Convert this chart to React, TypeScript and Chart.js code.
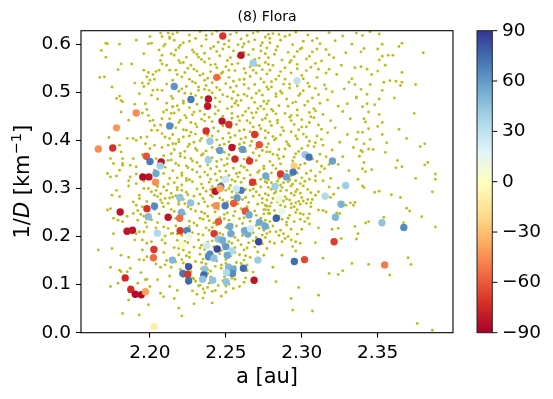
import { useEffect, useRef } from 'react';
import { Chart, registerables } from 'chart.js';

Chart.register(...registerables);

const W = 553;
const H = 399;
const FONT = "'DejaVu Sans', sans-serif";

const titleText = '(8) Flora';
const xLabel = 'a [au]';
const xTicks = [2.2, 2.25, 2.3, 2.35];
const yTicks = [0, 0.1, 0.2, 0.3, 0.4, 0.5, 0.6];
const cbTicks = [-90, -60, -30, 0, 30, 60, 90];
const xRange = [2.1546, 2.3996];
const yRange = [0, 0.628];
const cbRange = [-90, 90];

const rdylbu = ['#a50026', '#d73027', '#f46d43', '#fdae61', '#fee090', '#ffffbf', '#e0f3f8', '#abd9e9', '#74add1', '#4575b4', '#313695'];

// family members with measured colour value: a [au], 1/D [km^-1], colour value
const kinX = [2.248, 2.26, 2.268, 2.244, 2.216, 2.227, 2.2385, 2.238, 2.191, 2.213, 2.178, 2.2475, 2.252, 2.237, 2.269, 2.272, 2.2395, 2.254, 2.261, 2.246, 2.166, 2.1755, 2.1976, 2.256, 2.2385, 2.2, 2.2074, 2.2656, 2.2067, 2.204, 2.1953, 2.1993, 2.2037, 2.2763, 2.286, 2.2824, 2.2676, 2.2498, 2.2467, 2.2601, 2.2569, 2.243, 2.2462, 2.2574, 2.2969, 2.3022, 2.3048, 2.3202, 2.2949, 2.2943, 2.2899, 2.3289, 2.3153, 2.3259, 2.3222, 2.2832, 2.2849, 2.2868, 2.3528, 2.3672, 2.3213, 2.2951, 2.3018, 2.3546, 2.2197, 2.2268, 2.203, 2.198, 2.2436, 2.2495, 2.2551, 2.1804, 2.1989, 2.212, 2.2207, 2.2196, 2.2628, 2.2653, 2.1849, 2.1885, 2.2049, 2.2199, 2.2245, 2.2211, 2.2257, 2.2423, 2.2451, 2.2526, 2.2533, 2.2449, 2.2478, 2.2623, 2.2645, 2.2662, 2.272, 2.2759, 2.2716, 2.2026, 2.2023, 2.2148, 2.2255, 2.2217, 2.2249, 2.2255, 2.1837, 2.1874, 2.1903, 2.1943, 2.197, 2.2028, 2.2443, 2.25, 2.2541, 2.2395, 2.2386, 2.2421, 2.2375, 2.2509, 2.2711, 2.236, 2.2355, 2.2347, 2.2413, 2.2518, 2.2548, 2.2544, 2.2505, 2.2502, 2.2616, 2.2686];
const kinY = [0.617, 0.577, 0.561, 0.531, 0.512, 0.485, 0.486, 0.471, 0.457, 0.43, 0.426, 0.44, 0.433, 0.4195, 0.412, 0.391, 0.398, 0.385, 0.381, 0.379, 0.382, 0.384, 0.367, 0.361, 0.359, 0.356, 0.355, 0.357, 0.347, 0.331, 0.324, 0.324, 0.313, 0.326, 0.33, 0.304, 0.313, 0.319, 0.304, 0.296, 0.299, 0.294, 0.3, 0.28, 0.524, 0.37, 0.365, 0.357, 0.347, 0.334, 0.324, 0.306, 0.284, 0.267, 0.24, 0.238, 0.279, 0.252, 0.2285, 0.219, 0.189, 0.148, 0.152, 0.141, 0.281, 0.27, 0.263, 0.258, 0.264, 0.264, 0.269, 0.251, 0.241, 0.24, 0.25, 0.238, 0.253, 0.245, 0.211, 0.213, 0.207, 0.212, 0.212, 0.183, 0.201, 0.206, 0.231, 0.221, 0.206, 0.195, 0.1925, 0.212, 0.205, 0.216, 0.2295, 0.2216, 0.189, 0.173, 0.156, 0.151, 0.1375, 0.123, 0.121, 0.108, 0.114, 0.09, 0.08, 0.079, 0.085, 0.013, 0.174, 0.179, 0.17, 0.163, 0.158, 0.155, 0.181, 0.161, 0.151, 0.132, 0.12, 0.111, 0.109, 0.136, 0.132, 0.123, 0.125, 0.106, 0.134, 0.109];
const kinVal = [-70, -82, 40, -55, 62, 70, -82, -82, -45, 65, -42, -82, -72, -72, -70, -62, 42, -82, 60, 60, -45, -72, -62, -75, 40, 70, -82, -70, 40, 55, -85, -82, -45, 55, -70, 40, -70, 25, 70, 70, 25, -82, -40, 60, 30, 42, 72, 58, -25, 72, 58, 40, 35, 52, 50, 78, 8, 12, 45, 65, -68, 75, -65, -50, 45, 45, 65, -72, -45, 70, -60, -82, 48, -82, 52, -55, -62, 55, -82, -82, 35, -70, 68, 5, 10, -70, -60, 55, 55, 45, 55, 55, 55, 25, 55, 55, 85, -70, -55, 50, 80, 72, -70, 75, -75, -75, -85, -85, -40, -10, 85, 60, 35, 65, 65, 45, 25, 55, 42, 45, 75, 45, 45, 50, 55, 65, 35, 45, 75, -82];

// background asteroids, flat (a, 1/D) pairs in thousandths
const bgUpperLeft = [2168,587, 2171,573, 2172,601, 2180,600, 2191,608, 2170,532, 2175,511, 2179,547, 2181,559, 2188,559, 2190,519, 2195,519, 2196,546, 2200,616, 2199,601, 2201,602, 2207,623, 2208,616, 2212,623, 2210,600, 2214,580, 2208,577, 2207,566, 2208,559, 2206,546, 2211,556, 2213,546, 2199,541, 2202,537, 2204,543, 2198,532, 2200,525, 2199,518, 2202,504, 2205,505, 2208,504, 2201,494, 2193,497, 2180,492, 2181,483, 2182,480, 2178,487, 2181,459, 2190,475, 2186,442, 2197,476, 2198,464, 2199,452, 2202,442, 2203,431, 2209,459, 2211,463, 2214,456, 2208,445, 2213,445, 2215,470, 2205,421, 2208,414, 2201,421, 2198,407, 2194,406, 2191,400, 2189,404, 2185,404, 2173,406, 2210,407, 2213,404, 2215,393, 2212,390, 2203,390, 2200,383, 2208,385, 2197,393, 2180,390, 2181,376, 2189,362, 2182,362, 2174,362, 2176,352, 2182,348, 2187,348, 2191,345, 2180,338, 2174,324, 2178,326, 2187,324, 2191,330, 2203,338, 2209,331, 2213,321, 2172,331, 2182,352, 2171,602, 2167,531, 2206,352, 2212,358, 2209,368, 2204,362, 2214,372, 2195,370, 2210,344];
const bgLowerLeft = [2178,296, 2175,286, 2180,283, 2186,305, 2191,310, 2196,315, 2199,300, 2201,293, 2204,296, 2209,303, 2212,309, 2214,290, 2210,279, 2207,276, 2193,279, 2189,272, 2191,265, 2195,262, 2192,254, 2189,248, 2185,242, 2180,248, 2174,258, 2172,255, 2176,238, 2179,234, 2182,231, 2192,234, 2196,242, 2197,229, 2209,262, 2212,269, 2214,256, 2205,229, 2209,220, 2212,217, 2214,206, 2210,201, 2208,193, 2201,189, 2198,186, 2195,193, 2190,193, 2191,206, 2196,210, 2176,206, 2166,172, 2175,175, 2181,161, 2186,157, 2193,152, 2196,151, 2198,158, 2207,136, 2210,141, 2214,136, 2187,134, 2181,127, 2174,136, 2179,103, 2198,111, 2209,75, 2199,58, 2193,37, 2182,40, 2180,130, 2185,127, 2197,110, 2200,96, 2192,103, 2187,96, 2174,96, 2205,110, 2213,96, 2207,82, 2186,68, 2186,316, 2203,311, 2207,289, 2202,268, 2205,283, 2213,280];
const bgLeftBand = [2196,300, 2205,304, 2211,296, 2193,286, 2203,286, 2198,273, 2208,270, 2203,256, 2194,246, 2206,247, 2201,235, 2213,240, 2204,218, 2198,220, 2206,205, 2193,210, 2210,186, 2202,176, 2209,167, 2195,172, 2211,150, 2204,143, 2213,118, 2194,125, 2200,440, 2207,432, 2195,457, 2211,477, 2205,486, 2196,512, 2211,517, 2203,527, 2209,596, 2196,580, 2206,588, 2213,612];
const bgUpperCentre = [2218,624, 2226,619, 2233,626, 2241,621, 2249,616, 2257,624, 2264,618, 2271,626, 2276,615, 2216,608, 2222,603, 2237,610, 2245,604, 2252,607, 2262,601, 2269,609, 2274,603, 2219,593, 2228,588, 2234,596, 2248,590, 2255,586, 2261,594, 2268,589, 2277,592, 2216,577, 2224,573, 2231,579, 2239,570, 2246,576, 2253,572, 2265,578, 2272,571, 2220,561, 2227,556, 2236,563, 2243,558, 2250,553, 2258,560, 2270,556, 2276,562, 2217,546, 2223,541, 2229,548, 2240,543, 2247,539, 2256,545, 2263,540, 2274,547, 2221,532, 2226,527, 2233,535, 2238,529, 2252,531, 2259,526, 2266,533, 2273,528, 2216,517, 2224,512, 2230,519, 2237,514, 2244,510, 2250,518, 2257,513, 2269,516, 2277,511, 2219,502, 2227,497, 2232,504, 2241,499, 2248,495, 2255,501, 2262,496, 2272,503, 2215,487, 2222,482, 2234,489, 2240,484, 2246,480, 2254,487, 2260,483, 2267,488, 2275,481, 2218,472, 2226,468, 2231,475, 2243,470, 2251,466, 2258,473, 2265,467, 2273,471, 2216,457, 2223,452, 2229,459, 2236,454, 2248,450, 2254,456, 2261,452, 2270,458, 2277,453, 2220,442, 2227,437, 2234,444, 2241,439, 2250,435, 2259,441, 2266,436, 2274,443, 2217,426, 2224,421, 2231,428, 2238,423, 2245,419, 2253,426, 2262,422, 2268,428, 2276,420, 2215,412, 2222,407, 2230,413, 2241,409, 2248,404, 2256,410, 2263,406, 2271,412, 2219,397, 2226,392, 2233,399, 2239,394, 2246,390, 2252,397, 2259,392, 2267,398, 2274,391, 2216,381, 2223,377, 2230,383, 2237,378, 2249,375, 2255,382, 2263,377, 2270,383, 2277,376, 2220,367, 2227,362, 2234,369, 2241,364, 2247,360, 2256,366, 2262,361, 2272,368, 2217,352, 2224,347, 2231,354, 2238,349, 2244,345, 2251,351, 2260,347, 2266,353, 2275,346, 2215,337, 2221,332, 2228,339, 2236,334, 2243,330, 2250,336, 2257,331, 2264,338, 2271,333, 2218,322, 2226,318, 2233,324, 2240,319, 2247,323, 2254,318, 2262,321, 2269,317, 2276,323];
const bgUpperCentre2 = [2213,615, 2230,612, 2244,627, 2260,611, 2278,620, 2220,598, 2242,595, 2258,599, 2273,597, 2229,583, 2236,581, 2244,585, 2262,583, 2276,580, 2219,566, 2234,568, 2251,566, 2267,564, 2225,550, 2244,551, 2262,549, 2272,555, 2218,537, 2235,538, 2248,542, 2270,540, 2228,522, 2241,520, 2255,523, 2275,521, 2221,507, 2236,506, 2246,505, 2265,508, 2214,492, 2230,493, 2251,491, 2264,492, 2274,494, 2222,477, 2237,478, 2256,477, 2269,479, 2219,463, 2233,461, 2245,462, 2263,460, 2275,465, 2224,447, 2239,448, 2254,446, 2268,447, 2215,432, 2230,434, 2248,430, 2257,433, 2272,431, 2227,417, 2236,416, 2252,415, 2266,418, 2219,402, 2234,404, 2244,401, 2260,403, 2276,405, 2225,387, 2241,385, 2256,388, 2266,389, 2220,373, 2235,372, 2252,370, 2268,374, 2214,359, 2228,357, 2244,356, 2256,359, 2270,358, 2225,343, 2240,341, 2255,342, 2275,341, 2221,327, 2238,328, 2252,327, 2266,328];
const bgUpperCentre3 = [2215,621, 2237,618, 2253,620, 2268,623, 2226,606, 2249,600, 2265,605, 2217,588, 2240,591, 2252,594, 2273,586, 2232,573, 2258,575, 2269,568, 2222,562, 2240,557, 2254,558, 2266,553, 2231,544, 2252,546, 2268,546, 2215,525, 2236,525, 2246,530, 2262,527, 2232,511, 2253,510, 2262,516, 2223,498, 2239,504, 2258,494, 2270,498, 2227,486, 2243,488, 2257,482, 2215,470, 2238,468, 2254,470, 2271,466, 2228,453, 2243,455, 2258,449, 2267,457, 2219,437, 2236,440, 2247,444, 2264,441, 2222,422, 2242,426, 2259,420, 2273,424, 2226,409, 2238,410, 2253,406, 2269,408, 2217,393, 2229,396, 2249,392, 2262,395, 2231,379, 2244,381, 2259,383, 2274,379, 2223,364, 2238,365, 2251,362, 2265,365, 2219,348, 2233,346, 2249,348, 2262,344, 2231,334, 2246,336, 2259,333, 2272,337, 2224,321, 2244,317, 2258,324, 2273,319];
const bgUpperRight = [2281,622, 2289,616, 2296,625, 2304,619, 2318,624, 2327,617, 2279,603, 2286,608, 2294,599, 2301,606, 2312,601, 2322,607, 2333,600, 2283,588, 2291,583, 2299,590, 2307,584, 2316,589, 2329,582, 2278,572, 2287,567, 2295,574, 2303,569, 2313,565, 2321,572, 2281,556, 2289,551, 2297,558, 2306,552, 2318,548, 2326,556, 2335,551, 2277,538, 2285,534, 2293,540, 2300,535, 2310,531, 2323,537, 2280,522, 2288,517, 2296,524, 2304,519, 2315,515, 2331,521, 2278,506, 2286,502, 2292,509, 2301,503, 2309,508, 2320,501, 2328,507, 2283,491, 2290,486, 2298,493, 2307,488, 2317,484, 2336,490, 2277,476, 2285,472, 2294,478, 2302,473, 2312,477, 2324,471, 2281,461, 2289,456, 2297,463, 2305,458, 2314,454, 2327,460, 2276,446, 2284,442, 2292,448, 2300,443, 2308,447, 2319,441, 2332,445, 2280,431, 2287,427, 2295,433, 2303,428, 2311,432, 2322,426, 2278,416, 2286,411, 2293,418, 2301,413, 2310,409, 2317,416, 2330,412, 2282,401, 2290,397, 2297,403, 2305,398, 2313,402, 2325,396, 2277,386, 2285,381, 2292,388, 2300,383, 2308,387, 2320,380, 2334,385, 2281,371, 2288,366, 2296,372, 2303,367, 2312,371, 2327,366, 2279,356, 2286,351, 2294,357, 2302,352, 2310,356, 2318,350, 2283,341, 2290,336, 2298,342, 2306,337, 2315,341, 2331,337, 2277,326, 2285,321, 2293,327, 2300,322, 2309,326, 2319,321, 2285,620, 2310,612, 2300,592, 2282,579, 2318,578, 2292,562, 2309,560, 2279,546, 2303,545, 2316,540, 2289,527, 2297,513, 2283,497, 2311,495, 2296,480, 2280,465, 2308,466, 2293,452, 2284,436, 2305,437, 2298,422, 2281,408, 2303,407, 2291,392, 2279,376, 2298,377, 2314,390, 2285,362, 2307,361, 2294,347, 2280,332, 2303,331, 2324,350, 2330,476, 2333,528];
const bgUpperRight2 = [2279,612, 2292,619, 2307,607, 2284,595, 2297,585, 2310,590, 2278,558, 2293,566, 2305,575, 2286,543, 2297,549, 2311,548, 2283,527, 2301,528, 2292,517, 2280,511, 2305,512, 2316,507, 2287,498, 2299,497, 2278,482, 2291,471, 2304,481, 2283,455, 2297,452, 2309,461, 2279,439, 2293,441, 2306,449, 2288,420, 2300,428, 2313,423, 2283,404, 2296,409, 2309,395, 2278,393, 2289,382, 2304,389, 2284,369, 2295,365, 2316,366, 2281,348, 2299,349, 2313,346, 2288,329, 2297,332, 2312,334, 2278,318, 2292,318, 2305,319];
const bgFarRight = [2340,618, 2351,621, 2345,626, 2336,623, 2353,600, 2366,602, 2364,595, 2341,591, 2339,584, 2350,590, 2380,582, 2357,577, 2360,577, 2353,575, 2351,567, 2355,556, 2339,553, 2343,548, 2350,544, 2346,537, 2366,541, 2335,516, 2345,516, 2354,521, 2358,524, 2362,523, 2366,521, 2365,514, 2375,516, 2339,506, 2353,504, 2343,496, 2336,488, 2351,486, 2361,488, 2340,470, 2343,476, 2348,474, 2344,459, 2351,454, 2374,456, 2341,445, 2342,438, 2353,437, 2350,429, 2344,424, 2364,423, 2337,417, 2340,417, 2353,412, 2345,402, 2336,402, 2369,404, 2341,393, 2356,395, 2381,393, 2378,387, 2339,379, 2344,382, 2347,381, 2340,376, 2338,367, 2355,375, 2341,354, 2363,358, 2381,349, 2383,354, 2340,341, 2346,339, 2362,343, 2366,345, 2342,335, 2388,330, 2375,321, 2388,319, 2337,319, 2340,305, 2341,302, 2348,292, 2351,294, 2359,287, 2365,281, 2386,293, 2335,271, 2369,259, 2371,253, 2379,241, 2354,240, 2344,231, 2342,228, 2367,229, 2335,221, 2388,220, 2337,206, 2336,195, 2370,156, 2344,142, 2372,142, 2358,120, 2376,19, 2386,5];
const bgLowerCentre = [2216,312, 2221,307, 2228,314, 2234,309, 2241,304, 2247,311, 2253,306, 2260,313, 2266,308, 2273,303, 2277,312, 2218,297, 2224,292, 2231,299, 2237,294, 2244,290, 2250,296, 2257,291, 2263,298, 2270,293, 2276,289, 2215,282, 2222,277, 2229,284, 2235,279, 2241,283, 2248,276, 2254,281, 2261,277, 2268,284, 2274,279, 2219,267, 2225,262, 2232,268, 2238,263, 2245,269, 2251,264, 2258,268, 2264,262, 2271,267, 2277,263, 2216,252, 2223,247, 2230,253, 2236,248, 2243,251, 2249,246, 2256,252, 2262,248, 2269,253, 2275,247, 2220,237, 2226,232, 2233,238, 2239,233, 2246,239, 2252,234, 2259,237, 2266,232, 2273,238, 2217,222, 2224,217, 2231,223, 2237,218, 2244,224, 2250,219, 2257,222, 2263,217, 2270,223, 2276,219, 2215,207, 2221,202, 2228,208, 2235,203, 2241,209, 2248,204, 2255,207, 2261,202, 2268,208, 2274,203, 2218,192, 2225,187, 2232,193, 2238,188, 2245,194, 2252,189, 2258,192, 2265,187, 2272,193, 2216,177, 2222,172, 2229,178, 2236,173, 2242,179, 2249,174, 2256,177, 2262,172, 2269,178, 2219,162, 2226,157, 2233,163, 2239,158, 2246,164, 2253,159, 2259,162, 2266,157, 2275,161, 2217,147, 2224,142, 2230,148, 2237,143, 2244,149, 2250,144, 2257,146, 2264,141, 2220,132, 2227,127, 2234,133, 2240,128, 2247,134, 2253,129, 2260,131, 2268,126, 2222,117, 2229,112, 2236,118, 2242,113, 2249,116, 2256,111, 2263,114, 2225,102, 2232,97, 2239,103, 2245,98, 2252,101, 2259,96, 2228,87, 2236,83, 2243,88, 2250,84, 2219,51, 2221,35, 2229,60, 2216,71, 2235,72, 2241,62, 2218,88];
const bgLowerCentre2 = [2218,302, 2235,301, 2252,300, 2268,299, 2225,287, 2240,286, 2258,285, 2272,286, 2219,273, 2236,272, 2251,272, 2265,271, 2227,257, 2245,257, 2260,258, 2276,256, 2220,243, 2238,242, 2255,243, 2270,244, 2229,228, 2242,228, 2261,227, 2275,228, 2222,212, 2239,213, 2253,212, 2266,213, 2226,198, 2243,199, 2256,198, 2270,198, 2220,183, 2234,182, 2248,183, 2260,183, 2274,185, 2226,167, 2240,168, 2256,167, 2271,168, 2221,152, 2235,153, 2250,152, 2262,151, 2227,137, 2243,138, 2256,137, 2224,122, 2238,123, 2252,121, 2230,107, 2248,108, 2262,105, 2235,91, 2255,92, 2247,76];
const bgLowerCentre3 = [2224,316, 2239,313, 2256,315, 2270,309, 2221,296, 2240,298, 2254,293, 2266,296, 2217,285, 2233,288, 2246,280, 2263,281, 2223,268, 2241,265, 2255,266, 2274,270, 2221,255, 2234,251, 2251,249, 2266,250, 2217,238, 2235,236, 2249,237, 2262,239, 2226,221, 2241,219, 2254,225, 2272,217, 2218,205, 2232,205, 2246,207, 2263,206, 2223,190, 2241,191, 2254,186, 2268,191, 2219,175, 2233,176, 2247,171, 2264,176, 2224,160, 2237,162, 2251,156, 2263,160, 2222,145, 2234,146, 2247,141, 2260,144, 2225,129, 2238,131, 2250,126, 2264,129, 2228,114, 2240,116, 2254,113, 2233,99, 2250,97, 2241,86, 2231,80, 2238,94];
const bgLowerRight = [2276,314, 2280,312, 2284,315, 2288,312, 2291,314, 2296,316, 2299,310, 2301,305, 2302,315, 2309,316, 2314,316, 2324,301, 2318,303, 2306,291, 2309,286, 2311,293, 2299,290, 2295,286, 2293,290, 2290,296, 2287,302, 2286,295, 2282,290, 2278,286, 2277,276, 2280,270, 2279,263, 2276,265, 2284,272, 2288,274, 2292,276, 2296,270, 2299,267, 2301,274, 2304,277, 2303,269, 2307,277, 2319,281, 2321,288, 2317,283, 2275,256, 2278,248, 2279,248, 2282,254, 2289,262, 2293,260, 2297,256, 2299,248, 2301,246, 2305,247, 2311,255, 2314,254, 2316,251, 2323,249, 2329,265, 2332,270, 2334,265, 2325,248, 2276,234, 2279,231, 2282,234, 2285,242, 2287,236, 2291,238, 2295,231, 2299,236, 2305,226, 2311,218, 2320,215, 2324,217, 2275,213, 2277,206, 2279,210, 2283,210, 2286,213, 2288,206, 2291,200, 2293,193, 2289,196, 2287,189, 2282,186, 2279,189, 2276,198, 2277,175, 2296,189, 2294,179, 2296,170, 2299,186, 2309,187, 2326,196, 2287,161, 2281,136, 2283,106, 2314,155, 2333,144, 2327,129, 2324,121, 2318,123, 2298,94, 2293,71, 2311,78, 2294,47, 2307,45, 2283,309, 2293,305, 2280,298, 2297,298, 2289,283, 2285,280, 2300,281, 2295,262, 2306,262, 2283,244, 2292,244, 2304,238, 2281,222, 2290,224, 2300,215];
const bgLowerRight2 = [2278,302, 2286,307, 2294,309, 2304,298, 2283,293, 2296,293, 2281,279, 2290,278, 2298,273, 2286,265, 2293,268, 2306,270, 2278,255, 2287,251, 2296,250, 2283,238, 2290,230, 2302,231, 2278,218, 2293,215, 2285,202, 2297,205];

const bgGroups = [bgUpperLeft, bgLowerLeft, bgLeftBand, bgUpperCentre, bgUpperCentre2, bgUpperCentre3, bgUpperRight, bgUpperRight2, bgFarRight, bgLowerCentre, bgLowerCentre2, bgLowerCentre3, bgLowerRight, bgLowerRight2];

function hexRgb(h: string) {
  return [parseInt(h.slice(1, 3), 16), parseInt(h.slice(3, 5), 16), parseInt(h.slice(5, 7), 16)];
}

function cmap(v: number) {
  const n = rdylbu.length - 1;
  const t = Math.min(1, Math.max(0, (v - cbRange[0]) / (cbRange[1] - cbRange[0]))) * n;
  const i = Math.min(Math.floor(t), n - 1);
  const f = t - i;
  const a = hexRgb(rdylbu[i]);
  const b = hexRgb(rdylbu[i + 1]);
  const c = a.map((x, k) => Math.round(x + (b[k] - x) * f));
  return `rgb(${c[0]},${c[1]},${c[2]})`;
}

const decor = {
  id: 'decor',
  afterDraw(chart: any) {
    const { ctx, chartArea: a } = chart;
    const cb = chart.scales.cb;
    ctx.save();
    ctx.strokeStyle = '#000';
    ctx.lineWidth = 1.1;
    ctx.strokeRect(a.left, a.top, a.right - a.left, a.bottom - a.top);
    ctx.fillStyle = '#000';
    ctx.font = `14px ${FONT}`;
    ctx.textAlign = 'center';
    ctx.textBaseline = 'middle';
    ctx.fillText(titleText, (a.left + a.right) / 2, 17.5);
    const segs = [
      { t: '1/', f: `21px ${FONT}`, dy: 0 },
      { t: 'D', f: `italic 21px ${FONT}`, dy: 0 },
      { t: ' [km', f: `21px ${FONT}`, dy: 0 },
      { t: '\u22121', f: `14.5px ${FONT}`, dy: -8 },
      { t: ']', f: `21px ${FONT}`, dy: 0 },
    ];
    let total = 0;
    const widths = segs.map((s) => {
      ctx.font = s.f;
      const w = ctx.measureText(s.t).width;
      total += w;
      return w;
    });
    ctx.translate(29, (a.top + a.bottom) / 2);
    ctx.rotate(-Math.PI / 2);
    ctx.textAlign = 'left';
    ctx.textBaseline = 'alphabetic';
    let x = -total / 2;
    segs.forEach((s, i) => {
      ctx.font = s.f;
      ctx.fillText(s.t, x, s.dy);
      x += widths[i];
    });
    ctx.restore();

    if (cb) {
      ctx.save();
      const x0 = cb.left + 24;
      const x1 = cb.left + 39.3;
      const yTop = cb.getPixelForValue(cbRange[1]);
      const yBot = cb.getPixelForValue(cbRange[0]);
      const g = ctx.createLinearGradient(0, yBot, 0, yTop);
      rdylbu.forEach((c, i) => g.addColorStop(i / (rdylbu.length - 1), c));
      ctx.fillStyle = g;
      ctx.fillRect(x0, yTop, x1 - x0, yBot - yTop);
      ctx.strokeStyle = '#222';
      ctx.lineWidth = 1;
      ctx.strokeRect(x0, yTop, x1 - x0, yBot - yTop);
      ctx.strokeStyle = '#000';
      cbTicks.forEach((v) => {
        const y = cb.getPixelForValue(v);
        ctx.beginPath();
        ctx.moveTo(x1, y);
        ctx.lineTo(x1 + 5, y);
        ctx.stroke();
      });
      ctx.restore();
    }
  },
};

export default function App() {
  const ref = useRef<HTMLCanvasElement | null>(null);

  useEffect(() => {
    document.body.style.margin = '0';
    const canvas = ref.current;
    if (!canvas) return;

    const bgData: { x: number; y: number }[] = [];
    bgGroups.forEach((arr) => {
      for (let i = 0; i + 1 < arr.length; i += 2) bgData.push({ x: arr[i] / 1000, y: arr[i + 1] / 1000 });
    });
    const kinData = kinX.map((x, i) => ({ x, y: kinY[i] }));
    const kinColors = kinVal.map((v) => cmap(v));

    const tickFont = { family: FONT, size: 18.5 };
    const gridOpts = {
      display: true,
      drawOnChartArea: false,
      drawTicks: true,
      tickLength: 5,
      color: '#000',
      tickColor: '#000',
      tickWidth: 1.1,
    };
    const noPad = (s: any) => {
      s.paddingTop = 0;
      s.paddingBottom = 0;
    };

    const chart = new Chart(canvas, {
      type: 'scatter',
      data: {
        datasets: [
          {
            label: 'colour',
            data: kinData,
            backgroundColor: kinColors,
            borderWidth: 0,
            pointRadius: 3.7,
            pointHoverRadius: 3.7,
            order: 0,
          },
          {
            label: 'background',
            data: bgData,
            backgroundColor: '#bcbd22',
            borderWidth: 0,
            pointRadius: 1.45,
            pointHoverRadius: 1.45,
            order: 1,
          },
        ],
      },
      options: {
        animation: false,
        responsive: false,
        devicePixelRatio: 1,
        events: [],
        layout: { padding: { top: 30.7, left: 0, right: 0, bottom: 0 } },
        plugins: { legend: { display: false }, tooltip: { enabled: false }, title: { display: false } },
        scales: {
          x: {
            type: 'linear',
            position: 'bottom',
            min: xRange[0],
            max: xRange[1],
            afterBuildTicks: (s: any) => {
              s.ticks = xTicks.map((v) => ({ value: v }));
            },
            ticks: {
              font: tickFont,
              color: '#000',
              padding: 4,
              maxRotation: 0,
              autoSkip: false,
              callback: (v: any) => Number(v).toFixed(2),
            },
            grid: gridOpts,
            border: { display: false },
            title: {
              display: true,
              text: xLabel,
              color: '#000',
              font: { family: FONT, size: 21 },
              padding: { top: 0, bottom: 9 },
            },
            afterFit: (s: any) => {
              s.height = 66.3;
              s.paddingLeft = 0;
              s.paddingRight = 0;
            },
          },
          y: {
            type: 'linear',
            position: 'left',
            min: yRange[0],
            max: yRange[1],
            afterBuildTicks: (s: any) => {
              s.ticks = yTicks.map((v) => ({ value: v }));
            },
            ticks: {
              font: tickFont,
              color: '#000',
              padding: 5,
              autoSkip: false,
              callback: (v: any) => Number(v).toFixed(1),
            },
            grid: gridOpts,
            border: { display: false },
            afterFit: (s: any) => {
              s.width = 81;
              noPad(s);
            },
          },
          cb: {
            type: 'linear',
            position: 'right',
            min: cbRange[0],
            max: cbRange[1],
            afterBuildTicks: (s: any) => {
              s.ticks = cbTicks.map((v) => ({ value: v }));
            },
            ticks: {
              font: tickFont,
              color: '#000',
              padding: 5,
              autoSkip: false,
              callback: (v: any) => (Number(v) < 0 ? '\u2212' + Math.abs(Number(v)) : String(v)),
            },
            grid: { display: false, drawTicks: true, tickLength: 44 },
            border: { display: false },
            afterFit: (s: any) => {
              s.width = 100;
              noPad(s);
            },
          },
        },
      },
      plugins: [decor],
    } as any);

    return () => chart.destroy();
  }, []);

  return (
    <div style={{ width: W, height: H, background: '#fff' }}>
      <canvas ref={ref} width={W} height={H} style={{ display: 'block', width: W, height: H }} />
    </div>
  );
}
